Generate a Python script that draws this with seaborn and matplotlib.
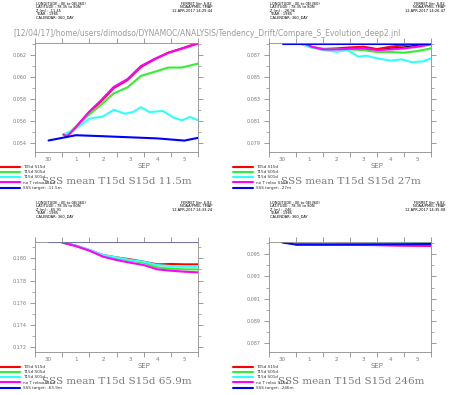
import matplotlib
matplotlib.use("Agg")
import matplotlib.pyplot as plt
import numpy as np
import pandas as pd
import seaborn as sns
from matplotlib.lines import Line2D
from matplotlib.ticker import MultipleLocator, FixedLocator, NullFormatter, FormatStrFormatter

sns.set_theme(style="white")
plt.rcParams['font.family'] = ['DejaVu Sans']

W, H = 449, 395

# ---------------- data ----------------
day_labels = ["30", "1", "2", "3", "4", "5"]
month_label = "SEP"
series_names = ["T05d S15d", "T15d S05d", "T15d S01d", "no T relax S15d"]
series_colors = ["#ff0000", "#33ee33", "#33ffff", "#ff00ff"]
target_color = "#0000ff"

# Panel A : 11.5 m
A_depth = "11.5m"
A_z = "-11.45"
A_target_x = [0.5, 1.5, 2.5, 3.5, 4.5, 5.5, 6.0]
A_target_y = [0.05421, 0.05469, 0.05460, 0.05450, 0.05440, 0.05420, 0.05445]
A_x = [1.05, 1.17, 1.5, 2.0, 2.4, 2.9, 3.4, 3.9, 4.4, 4.9, 5.4, 6.0]
A_red = [0.05475, 0.05462, 0.05544, 0.05680, 0.05770, 0.05900, 0.05971, 0.06092, 0.06161, 0.06221, 0.06260, 0.06311]
A_grn = [0.05475, 0.05466, 0.05544, 0.05659, 0.05740, 0.05851, 0.05905, 0.06010, 0.06047, 0.06086, 0.06086, 0.06122]
A_mag = [0.05475, 0.05454, 0.05540, 0.05685, 0.05780, 0.05910, 0.05980, 0.06100, 0.06165, 0.06220, 0.06258, 0.06305]
A_cyn_x = [1.05, 1.5, 2.0, 2.5, 2.9, 3.3, 3.6, 3.9, 4.2, 4.7, 5.1, 5.4, 5.7, 6.0]
A_cyn = [0.05475, 0.05529, 0.05620, 0.05640, 0.05701, 0.05665, 0.05680, 0.05725, 0.05680, 0.05690, 0.05629, 0.05605, 0.05635, 0.05605]
A_ylim = (0.05316, 0.0631)
A_yticks = [0.054, 0.056, 0.058, 0.060, 0.062]

# Panel B : 27 m
B_depth = "27m"
B_z = "-26.96"
B_target_x = [0.5, 1.5, 2.5, 3.5, 4.5, 5.5, 6.0]
B_target_y = [0.08800, 0.08800, 0.08800, 0.08800, 0.08800, 0.08800, 0.08800]
B_x = [0.83, 1.2, 1.57, 2.0, 2.5, 3.0, 3.5, 4.0, 4.5, 5.0, 5.5, 6.0]
B_red = [0.0881, 0.0881, 0.08775, 0.08754, 0.08760, 0.08769, 0.08775, 0.08754, 0.08775, 0.08790, 0.08806, 0.08825]
B_grn = [0.0881, 0.0880, 0.08769, 0.08757, 0.08754, 0.08751, 0.08745, 0.08727, 0.08727, 0.08721, 0.08736, 0.08760]
B_mag = [0.0881, 0.0882, 0.08775, 0.08751, 0.08751, 0.08757, 0.08760, 0.08745, 0.08751, 0.08760, 0.08775, 0.08797]
B_cyn_x = [0.83, 1.2, 1.57, 2.0, 2.5, 2.9, 3.3, 3.6, 4.0, 4.5, 4.9, 5.3, 5.7, 6.0]
B_cyn = [0.0881, 0.0880, 0.08769, 0.08745, 0.08730, 0.08745, 0.08685, 0.08694, 0.08670, 0.08649, 0.08661, 0.08634, 0.08643, 0.08670]
B_blk_x = [3.9, 4.5, 5.0, 5.5, 6.0]
B_blk = [0.08750, 0.08762, 0.08772, 0.08790, 0.08800]
B_ylim = (0.07821, 0.08809)
B_yticks = [0.079, 0.081, 0.083, 0.085, 0.087]

# Panel C : 65.9 m
C_depth = "65.9m"
C_z = "-65.91"
C_target_x = [0.5, 1.5, 2.5, 3.5, 4.5, 5.5, 6.0]
C_target_y = [0.18143, 0.18143, 0.18143, 0.18143, 0.18143, 0.18143, 0.18143]
C_x = [1.0, 1.5, 2.0, 2.5, 3.0, 3.5, 4.0, 4.5, 5.0, 5.5, 6.0]
C_red = [0.18143, 0.18114, 0.18075, 0.18030, 0.18009, 0.17991, 0.17970, 0.17946, 0.17949, 0.17946, 0.17946]
C_grn = [0.18143, 0.18114, 0.18072, 0.18024, 0.18000, 0.17979, 0.17961, 0.17919, 0.17907, 0.17901, 0.17901]
C_cyn = [0.18143, 0.18114, 0.18075, 0.18030, 0.18009, 0.17985, 0.17970, 0.17940, 0.17931, 0.17925, 0.17931]
C_mag = [0.18143, 0.18110, 0.18069, 0.18015, 0.17985, 0.17961, 0.17940, 0.17901, 0.17889, 0.17880, 0.17874]
C_ylim = (0.17158, 0.18147)
C_yticks = [0.172, 0.174, 0.176, 0.178, 0.180]

# Panel D : 246 m
D_depth = "246m"
D_z = "-246"
D_target_x = [0.5, 1.0, 2.0, 3.0, 4.0, 5.0, 6.0]
D_target_y = [0.09605, 0.09587, 0.09587, 0.09588, 0.09589, 0.09590, 0.09592]
D_x = [1.0, 2.0, 3.0, 4.0, 5.0, 6.0]
D_red = [0.09588, 0.09586, 0.09584, 0.09582, 0.09578, 0.09575]
D_grn = [0.09588, 0.09588, 0.09589, 0.09590, 0.09591, 0.09593]
D_cyn = [0.09588, 0.09589, 0.09591, 0.09595, 0.09600, 0.09605]
D_mag = [0.09588, 0.09586, 0.09585, 0.09583, 0.09580, 0.09578]
D_ylim = (0.0862, 0.0961)
D_yticks = [0.087, 0.089, 0.091, 0.093, 0.095]

path_text = "[12/04/17]/home/users/dimodso/DYNAMOC/ANALYSIS/Tendency_Drift/Compare_S_Evolution_deep2.jnl"
ferret_times = ["12-APR-2017 14:25:44", "12-APR-2017 14:26:47", "12-APR-2017 14:33:24", "12-APR-2017 14:35:08"]

panels = [
    dict(depth=A_depth, z=A_z, tx=A_target_x, ty=A_target_y,
         series=[(A_x, A_red), (A_x, A_grn), (A_cyn_x, A_cyn), (A_x, A_mag)],
         black=None, ylim=A_ylim, yticks=A_yticks, box=(35, 43, 198, 152), time=ferret_times[0]),
    dict(depth=B_depth, z=B_z, tx=B_target_x, ty=B_target_y,
         series=[(B_x, B_red), (B_x, B_grn), (B_cyn_x, B_cyn), (B_x, B_mag)],
         black=(B_blk_x, B_blk), ylim=B_ylim, yticks=B_yticks, box=(269, 43, 431, 152), time=ferret_times[1]),
    dict(depth=C_depth, z=C_z, tx=C_target_x, ty=C_target_y,
         series=[(C_x, C_red), (C_x, C_grn), (C_x, C_cyn), (C_x, C_mag)],
         black=None, ylim=C_ylim, yticks=C_yticks, box=(35, 242, 198, 352), time=ferret_times[2]),
    dict(depth=D_depth, z=D_z, tx=D_target_x, ty=D_target_y,
         series=[(D_x, D_red), (D_x, D_grn), (D_x, D_cyn), (D_x, D_mag)],
         black=None, ylim=D_ylim, yticks=D_yticks, box=(269, 242, 431, 352), time=ferret_times[3]),
]

fig = plt.figure(figsize=(W / 100, H / 100), dpi=100)
fig.patch.set_facecolor("white")

def fx(px):
    return px / W

def fy(py):
    return 1 - py / H

axis_gray = "#8c8c8c"
text_gray = "#7a7a7a"
lw = 1.5

for p in panels:
    x0, y0, x1, y1 = p["box"]
    ax = fig.add_axes([fx(x0), fy(y1), (x1 - x0) / W, (y1 - y0) / H])
    ax.set_facecolor("white")
    handles = []
    if p["black"] is not None:
        sns.lineplot(x=p["black"][0], y=p["black"][1], color="black", lw=1.0, ax=ax, legend=False)
    for (sx, sy), c, name in zip(p["series"], series_colors, series_names):
        sns.lineplot(x=sx, y=sy, color=c, lw=lw, ax=ax, legend=False)
        handles.append(Line2D([], [], color=c, lw=lw, label=name))
    sns.lineplot(x=p["tx"], y=p["ty"], color=target_color, lw=lw, ax=ax, legend=False)
    handles.append(Line2D([], [], color=target_color, lw=lw, label="SSS target: -" + p["depth"]))

    ax.set_xlim(0, 6)
    ax.set_ylim(*p["ylim"])
    ax.set_xlabel("")
    ax.set_ylabel("")
    for s in ax.spines.values():
        s.set_color(axis_gray)
        s.set_linewidth(0.6)
        s.set_visible(True)
    ax.xaxis.set_major_locator(FixedLocator([0, 1, 2, 3, 4, 5, 6]))
    ax.xaxis.set_major_formatter(NullFormatter())
    ax.xaxis.set_minor_locator(FixedLocator([0.5, 1.5, 2.5, 3.5, 4.5, 5.5]))
    ax.set_xticklabels(day_labels, minor=True)
    ax.yaxis.set_major_locator(FixedLocator(p["yticks"]))
    ax.yaxis.set_major_formatter(FormatStrFormatter("%.3f"))
    ax.yaxis.set_minor_locator(MultipleLocator(0.001))
    ax.tick_params(axis="x", which="major", direction="out", length=3.5, width=0.6,
                   color=axis_gray, top=True, bottom=True)
    ax.tick_params(axis="x", which="minor", length=0, labelsize=4, labelcolor=text_gray, pad=3.5,
                   top=False, bottom=True)
    ax.tick_params(axis="y", which="major", direction="out", length=3.5, width=0.6,
                   color=axis_gray, left=True, right=True, labelsize=3.5, labelcolor=text_gray, pad=2.5)
    ax.tick_params(axis="y", which="minor", direction="out", length=2, width=0.5,
                   color=axis_gray, left=True, right=True)
    ax.text(4.0, -0.13, month_label, transform=ax.get_xaxis_transform(), ha="center", va="center",
            fontsize=5, color=text_gray)

    # title under the plot
    cx = (x0 + x1) / 2 - (x0 - 35) * 0 + (117 - 116.5)
    fig.text(fx(x0 + 82), fy(y1 + 30), "SSS mean T15d S15d " + p["depth"],
             family="DejaVu Serif", fontsize=7.5, color=text_gray, ha="center", va="center")

    # legend
    lx = 0 if x0 < 100 else 233
    leg = fig.legend(handles=handles, loc="upper left",
                     bbox_to_anchor=(fx(lx), fy(y1 + 13)), bbox_transform=fig.transFigure,
                     frameon=False, fontsize=3, handlelength=4.8, handletextpad=0.7,
                     labelspacing=0.3, borderpad=0, borderaxespad=0)
    for t in leg.get_texts():
        t.set_color("#333333")

    # Ferret header blocks
    hx = x0 + 1
    hy = y0 - 41
    header = ["LONGITUDE : 0E to 0E(360)", "LATITUDE : 78.35 to 80N", "Z (m) : " + p["z"],
              "YEAR : 1985", "CALENDAR: 360_DAY"]
    for i, line in enumerate(header):
        fig.text(fx(hx), fy(hy + 3.4 * i), line, fontsize=2.6, color="black", ha="left", va="top")
    rb = ["FERRET Ver. 6.82", "NOAA/PMEL TMAP", p["time"]]
    rx = x1 + 14
    for i, line in enumerate(rb):
        fig.text(fx(rx), fy(hy + 3.4 * i), line, fontsize=2.6, color="black", ha="right", va="top")

# path text across top
t = fig.text(fx(13), fy(33), path_text, fontsize=6.5, color="#9a9a9a", ha="left", va="center")
fig.canvas.draw()
bb = t.get_window_extent()
target_w = 389.0
t.set_fontsize(6.5 * target_w / bb.width)

fig.savefig("out.png", dpi=100, facecolor="white")
